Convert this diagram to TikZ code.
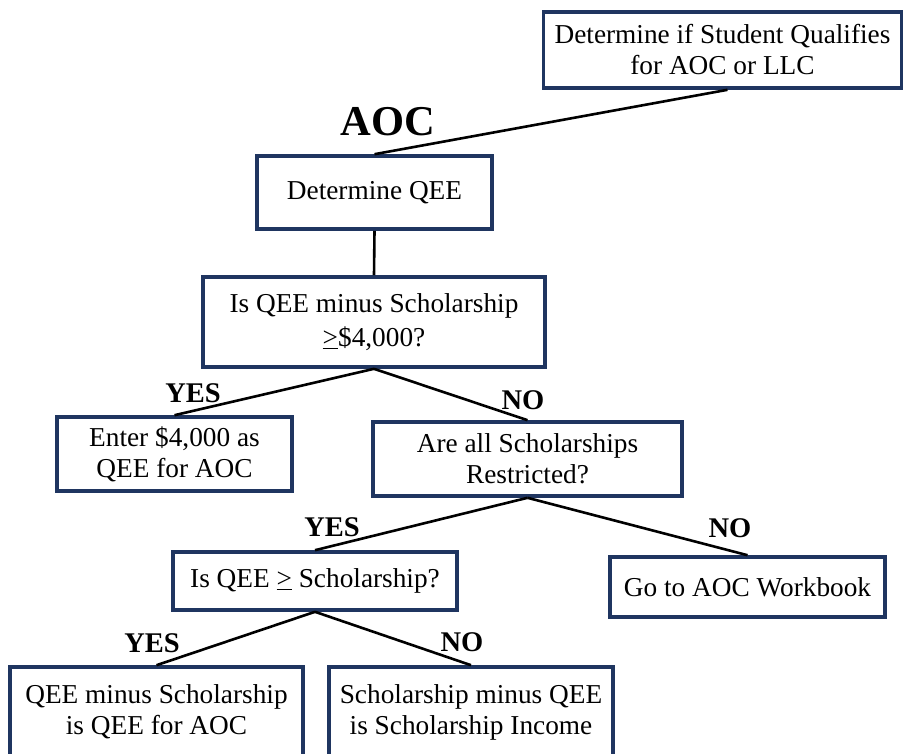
\documentclass[tikz,border=0pt]{standalone}
\usepackage{fontspec}
\setmainfont{Liberation Serif}
\begin{document}
\begin{tikzpicture}[x=1pt,y=-1pt,
  box/.style={draw=boxnavy, line width=3.6pt, fill=white, align=center,
    font=\fontsize{27.3}{31}\selectfont, inner sep=0pt},
  link/.style={line width=2.6pt, black},
  answer/.style={font=\bfseries\fontsize{28.5}{32}\selectfont, inner sep=0pt},
]
\definecolor{boxnavy}{HTML}{1F3560}
\useasboundingbox (0,0) rectangle (903,753);
\clip (0,0) rectangle (903,753);

% decision boxes
\node[box, minimum width=358pt, minimum height=76pt] (start) at (722.5,50) {Determine if Student Qualifies\\for AOC or LLC};
\node[box, minimum width=235pt, minimum height=73pt] (qee) at (374.5,192.5) {Determine QEE};
\node[box, minimum width=342pt, minimum height=90pt] (minus) at (374,322) {Is QEE minus Scholarship\\[3pt]\underline{>}\$4,000?};
\node[box, minimum width=235pt, minimum height=74pt] (enter) at (174.5,454) {Enter \$4,000 as\\QEE for AOC};
\node[box, minimum width=309pt, minimum height=74pt] (restr) at (527.5,459) {Are all Scholarships\\Restricted?};
\node[box, minimum width=284pt, minimum height=58pt] (cmp) at (315,581) {Is QEE \underline{>} Scholarship?};
\node[box, minimum width=275pt, minimum height=60pt] (wb) at (747.5,587) {Go to AOC Workbook};
\node[box, minimum width=293pt, minimum height=90pt] (diff) at (156.5,712) {QEE minus Scholarship\\is QEE for AOC};
\node[box, minimum width=284pt, minimum height=90pt] (inc) at (471,712) {Scholarship minus QEE\\is Scholarship Income};

% connectors
\draw[link] ([xshift=5pt]start.south) -- (qee.north);
\draw[link] (qee.south) -- (minus.north);
\draw[link] (minus.south) -- (enter.north);
\draw[link] (minus.south) -- (restr.north);
\draw[link] (restr.south) -- (cmp.north);
\draw[link] (restr.south) -- (wb.north);
\draw[link] (cmp.south) -- (diff.north);
\draw[link] (cmp.south) -- (inc.north);

% branch labels
\node[font=\bfseries\fontsize{42.5}{46}\selectfont, inner sep=0pt] (aoc) at (388,122) {AOC};
\node[answer] (y1) at (193,393) {YES};
\node[answer] (n1) at (523,400) {NO};
\node[answer] (y2) at (332,527) {YES};
\node[answer] (n2) at (730,528) {NO};
\node[answer] (y3) at (152,643) {YES};
\node[answer] (n3) at (462,642) {NO};
\end{tikzpicture}
\end{document}
